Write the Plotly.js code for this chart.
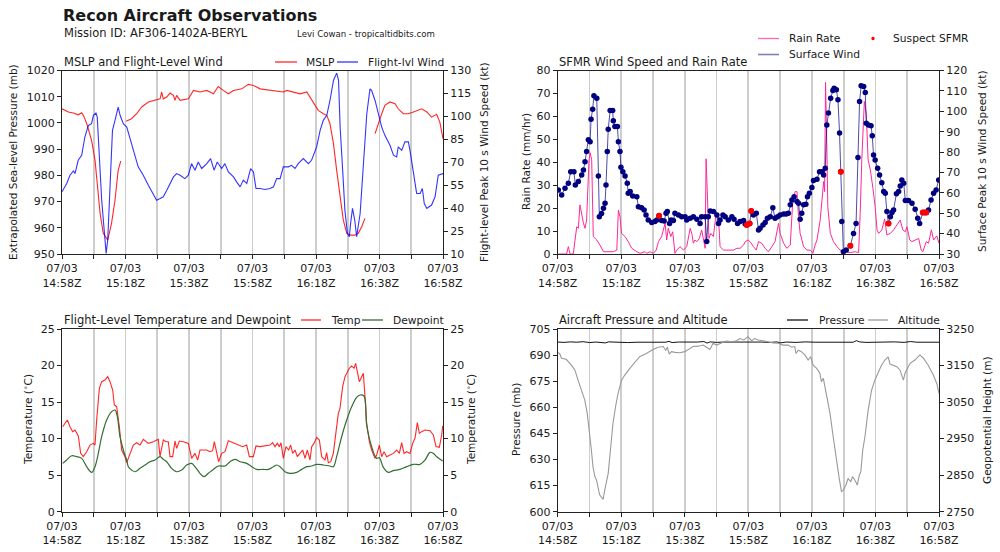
<!DOCTYPE html>
<html>
<head>
<meta charset="utf-8">
<script src="https://cdn.plot.ly/plotly-3.0.1.min.js"></script>
<style>html,body{margin:0;padding:0;background:#fff;}#chart{width:1000px;height:552px;}</style>
</head>
<body>
<div id="chart"></div>
<script>
// x values: minutes after 07/03 14:58Z
const tickMinutes = [0,20,40,60,80,100,120];
const minorMinutes = [10,30,50,70,90,110];
const tickDate = '07/03';
const tickTimes = ['14:58Z','15:18Z','15:38Z','15:58Z','16:18Z','16:38Z','16:58Z'];

// MSLP (mb) [minute, value]; null = gap
const mslp = [[0,1005.4],[2,1004.2],[3.6,1003.8],[5.1,1003.1],[6.2,1003.9],[6.9,1002.5],[7.8,999.7],[9.3,993.4],[10.4,985.8],[11.1,975.6],[12,965.5],[13,957.9],[14.4,955.3],[15.6,961.7],[16.7,970.6],[17.7,982],[18.5,985.4],[19.3,null],[20.2,1000.6],[21.9,1001.6],[23.5,1003.5],[25.1,1006.1],[27.2,1008],[29.8,1008.8],[30.9,1009.2],[31.4,1011.8],[31.9,1009.2],[33,1009.9],[34,1011.4],[35.1,1010.5],[35.6,1008.6],[36.1,1010.5],[37.2,1008.6],[39.8,1009.2],[41.4,1012.4],[43.5,1011.8],[45.6,1012.4],[47.7,1011.1],[49.2,1013.9],[50.8,1012.4],[52.4,1011.1],[54,1012.4],[56.6,1013],[58.7,1014.7],[60.3,1014.3],[62.4,1013],[65.5,1012.6],[68.1,1012.1],[69.7,1011.8],[70.8,1012.4],[72.9,1011.8],[75,1011.1],[77.1,1011.8],[78.1,1009.9],[79.2,1007.3],[80.7,1004.8],[82.3,1003.5],[83.4,1002.9],[84.4,999.7],[85.5,992.1],[86.5,982],[87.6,971.8],[88.6,962.9],[89.7,957.9],[90.7,957.2],[92.3,957.2],[93.3,957.9],[94.4,960.4],[95.4,963.6],[97,null],[98.6,995.9],[99.6,999.7],[100.7,1003.5],[101.7,1006.7],[103.3,1008],[104.9,1007.3],[105.9,1005.4],[107.5,1003.5],[109.1,1003.5],[110.7,1004.2],[112.2,1005],[113.3,1005.4],[114.9,1004.2],[116.4,1002.2],[118,1003.3],[119,1000.3],[120,994]];

// Flight-level peak 10 s wind (kt)
const flWind = [[0,50.7],[1.5,56.1],[2.5,61.5],[3.6,64.3],[4.1,62.6],[5.1,71.3],[6.2,74.6],[7.2,86.5],[8.3,94.1],[9.3,95.2],[9.9,100.7],[10.7,102.2],[11.1,99.6],[11.8,71.3],[12.5,45.2],[13.2,27.8],[13.9,10.4],[14.4,19.1],[15.1,49.6],[15.9,90.9],[16.7,97.4],[17.2,101.7],[17.7,106.1],[18.3,100.7],[19.3,95.2],[20.4,93],[21.4,86.5],[22.5,77.8],[24,67],[25.6,61.5],[27.2,55],[28.8,48.5],[29.8,45.2],[30.9,46.3],[31.9,47.4],[33,51.7],[34,56.1],[35.1,60.4],[36.1,62.6],[37.2,61.5],[38.7,59.3],[39.8,61.5],[40.8,69.1],[41.9,64.8],[42.9,70.2],[44,65.9],[45.6,69.1],[46.8,72.4],[47.9,64.8],[48.9,70.2],[50.3,65.9],[51.3,69.1],[52.4,63.7],[54,60.4],[55,57.2],[56.1,53.9],[57.1,58.3],[58.2,56.1],[59.4,65.9],[60.3,63.7],[61.1,52.8],[62.4,52.8],[63.9,52.2],[65.5,52.8],[66.6,53.9],[67.6,59.3],[68.7,59.3],[69.7,67],[71.3,67],[72.3,68],[73.4,65.9],[74.4,69.1],[76,72.4],[77.6,69.1],[78.6,71.3],[80.2,80],[81.3,90.9],[82.3,97.4],[83.4,100.7],[84.4,110.4],[85.5,123.5],[86.5,128.3],[87.1,123.5],[87.6,93],[88.4,64.8],[89.1,38.7],[89.9,23.5],[90.5,21.3],[90.9,30],[91.5,39.8],[92.2,32.2],[92.8,21.3],[93.9,36.5],[95,71.3],[96,101.7],[97,118],[97.5,117],[98.6,110.4],[99.6,101.7],[100.7,93],[101.7,87.6],[103.3,81.1],[104.4,74.6],[105.4,73.5],[105.9,80],[107,77.8],[108,83.3],[109.1,83.3],[109.6,77.8],[110.7,62.6],[111.7,49.6],[112.8,49.6],[113.5,52.8],[114.1,43],[114.9,39.8],[116.4,42],[117.5,47.4],[118.5,61.5],[120,62.6]];

// SFMR rain rate (mm/hr)
const rainRate = [[0.2,0],[2.8,0],[3.35,3.2],[3.9,0],[4.9,0],[5.45,6.1],[6,11.9],[6.5,11.2],[7,21.4],[8.1,13.4],[8.6,11.2],[9.1,14.8],[9.85,41],[10.2,44.2],[10.7,41],[11.2,7.6],[12.3,6.1],[13.3,3.9],[14.4,1],[17.5,1],[18.6,1.7],[19.1,19.2],[19.6,16.3],[20.1,9],[21.2,7.6],[22.2,5.4],[23.3,2.5],[24.9,1],[25.9,0.3],[27.5,1],[28,0.3],[29.1,1],[30.1,0.3],[31,1.7],[31.7,5.4],[32.7,7.6],[33.8,13.4],[34.3,6.1],[34.8,11.2],[35.6,7.6],[36.2,9.7],[36.9,0.3],[37.5,1.7],[38.5,3.2],[39.6,1.7],[40.6,3.2],[41.7,11.2],[42.2,9],[42.7,4.7],[43.2,6.1],[43.8,5.4],[44.6,6.8],[45.3,10.5],[45.9,6.1],[46.4,2.5],[46.7,41.5],[47.1,20.7],[47.6,6.8],[48.2,9],[49,7.6],[49.9,18.5],[50.6,16.3],[51.1,3.2],[52.2,1.7],[53.2,1.7],[55.3,1.7],[56.4,2.5],[57.4,2.5],[58.5,3.9],[59,5.4],[60,6.1],[60.8,4.9],[61.6,3.2],[62.5,1.7],[63.2,5.4],[64.2,4.7],[65.3,2.5],[66.3,1],[67.4,3.2],[68.4,5.4],[69.5,13.4],[70,9],[71.1,4.7],[72.1,2.5],[73.2,3.9],[73.9,21.4],[74.7,27.2],[75.3,27.2],[75.8,16.3],[76.3,9],[77.4,3.2],[78.4,1.7],[79.5,1.7],[80.3,0.3],[81,3.9],[81.6,6.1],[82.6,14.8],[83.5,29.4],[83.7,31.6],[84,27.2],[84.3,74.8],[84.7,46.8],[85,20.7],[85.8,9],[86.8,5.4],[87.9,3.2],[88.9,1.7],[90,1],[92.1,0.6],[93.6,1],[94.7,0.6],[95.2,17.7],[95.7,41],[96.5,66.5],[97.1,61.4],[97.7,41],[98.4,36.7],[99.2,28.7],[99.9,20.7],[100.5,10.5],[101,9],[102,10.5],[102.9,15.3],[103.6,8.3],[104.7,9],[105.7,10.5],[106.8,12.7],[107.8,14.8],[108.6,10.5],[109.4,9.7],[109.9,11.9],[110.8,6.1],[111.5,5.4],[112.5,6.1],[113.6,6.8],[114.4,1.7],[114.9,1],[116,5.4],[116.7,4.7],[117.6,10.5],[118.3,6.1],[119.3,7.9],[120,4.7]];

// SFMR surface peak 10 s wind (kt)
const sfcWind = [[0.2,61.4],[1.25,58.9],[2.3,62.3],[3.35,64.7],[4.1,70.4],[5.1,70.4],[5.55,63.9],[6.5,65.5],[7.55,68.8],[8.1,71.2],[8.6,75.3],[9.1,80.3],[9.65,86],[10.2,85.1],[10.5,96.1],[11,101],[11.4,107.6],[12.3,106.4],[12.8,68.3],[13.1,48.3],[13.8,49.9],[14.4,52.4],[14.9,54.9],[15.2,63.9],[15.6,80.3],[15.9,91.2],[16.5,100.4],[17.3,100.4],[17.5,95.3],[18,92.5],[18.8,92.5],[19.1,85.1],[19.6,80.3],[19.9,72.6],[20.5,70.4],[21.2,68.3],[21.9,64.7],[22.2,59.8],[22.8,60.6],[23.6,58.5],[24.9,58.1],[25.4,53.2],[26.4,52.7],[27.2,51.6],[27.8,49.1],[28.5,46.7],[29.6,45.5],[30.6,45.9],[31.2,46.7],[31.9,48.8],[32.7,46.4],[33.5,46.2],[34.1,50],[34.5,50.8],[35.2,45],[35.7,46.7],[36.4,46.4],[36.9,50],[38,49.1],[39,48.3],[40.1,48.3],[40.6,46.7],[41.7,47.5],[42.7,48.3],[43.8,47],[44.8,45],[45.3,48.3],[46.4,48.3],[46.9,36.1],[47.4,48.3],[48,51.1],[49,50.8],[50.1,49.1],[50.6,45],[51.1,46.7],[52,49.1],[52.7,48.3],[53.7,46.7],[54.8,48.3],[55.5,47],[56.6,45],[57.4,45.9],[58.5,46.4],[59,44.7],[59.5,44.2],[60.4,45],[60.9,51.1],[61.6,49.1],[62.5,50],[63.2,41.8],[63.7,42.6],[64.6,44.2],[65.3,45.4],[66,47.5],[66.9,48.3],[67.7,52.7],[68.4,47.5],[69.2,48.3],[70,49.1],[71.1,49.6],[71.9,49.6],[72.6,50],[73.2,54.1],[73.7,56.5],[74.4,58.1],[75.3,55.7],[75.8,54.9],[76.3,47],[76.8,50],[77.4,54.1],[78.1,54.4],[78.6,58.1],[79.2,59.8],[80,62.6],[80.5,66],[81.6,66.7],[82.4,70.4],[83.1,70.4],[83.7,68.8],[84.2,72.1],[84.7,93.3],[85.2,99.1],[85.9,106.4],[86.6,110.2],[87,111.3],[87.7,110.5],[88.2,105.6],[88.7,89.3],[89.1,70.4],[89.4,45.9],[89.9,31.1],[90.8,32],[92.1,34.1],[93.1,40.1],[93.9,45],[94.5,77.3],[95,104.8],[95.5,112.5],[96.3,112.2],[96.8,109.2],[97.1,94.1],[97.8,93.3],[98.6,92.9],[99,88],[99.4,78.6],[99.9,76.1],[100.7,72.1],[101.3,68.8],[102,65],[102.6,60.6],[103.1,59.8],[103.6,50.8],[104.1,45],[104.7,48.3],[105.2,50.3],[105.7,51.6],[106.6,59.5],[107.3,60.6],[107.8,63.4],[108.3,66.3],[108.9,64.7],[109.4,56.2],[110.4,56.2],[111.5,54.9],[112.5,51.9],[113.3,47.5],[113.9,45],[114.9,50.3],[115.5,50.3],[116,50.3],[116.7,51.6],[117.5,56.5],[118.3,59.8],[119.1,61.4],[119.9,66.3]];

// Suspect SFMR (kt)
const suspect = [[31.9,48.8],[59.5,44.2],[60.4,45],[60.9,51.1],[89.1,70.4],[92.1,34.1],[104.1,45],[114.9,50.3],[115.5,50.3],[116,50.3]];

// Flight-level temperature (C)
const temp = [[0.2,11.63],[0.94,12.09],[1.68,12.55],[2.52,11.63],[3.36,10.95],[4.09,11.18],[5.14,10.36],[5.88,7.98],[6.72,7.53],[7.77,8.21],[8.82,9.12],[9.87,9.35],[10.39,9.12],[10.92,12.55],[11.76,16.88],[12.49,17.79],[13.54,18.02],[14.38,18.48],[15.12,17.79],[15.96,16.65],[16.48,14.6],[17.22,14.37],[18.06,11.63],[18.79,8.44],[19.84,7.53],[20.37,6.71],[21.42,7.98],[22.47,9.12],[23.52,9.44],[24.57,9.12],[25.62,9.9],[27.19,9.35],[28.77,9.58],[30.34,9.9],[30.87,7.53],[31.92,9.81],[32.76,9.58],[33.49,9.58],[34.02,7.53],[34.86,7.53],[35.59,9.67],[36.12,8.67],[36.96,9.67],[38.22,9.58],[39.79,9.35],[40.84,7.3],[41.89,7.98],[42.73,7.07],[43.46,8.44],[44.51,8.44],[45.56,8.44],[46.61,8.21],[47.45,8.35],[47.98,9.58],[48.5,8.44],[49.34,6.84],[50.29,7.98],[51.34,8.21],[52.39,9.72],[53.96,9.44],[55.54,9.12],[56.9,8.9],[58.16,9.12],[59,7.53],[60.26,7.53],[61.1,8.99],[62.36,8.9],[63.94,8.99],[65.51,9.12],[66.35,9.44],[67.09,8.9],[67.82,9.35],[68.45,8.9],[68.98,9.44],[69.71,7.3],[70.55,8.9],[71.39,8.44],[72.02,9.12],[72.65,7.98],[73.39,8.44],[74.12,7.53],[74.96,7.98],[75.8,8.44],[76.54,7.3],[77.27,8.44],[78.11,7.07],[78.64,8.9],[79.37,9.35],[80.21,10.17],[81.05,9.81],[81.79,7.53],[82.83,7.07],[83.36,8.07],[83.88,6.71],[84.62,6.84],[85.46,7.98],[86.3,10.72],[87.03,13.46],[87.56,14.14],[88.4,17.11],[89.13,18.48],[89.87,19.16],[90.5,19.62],[91.23,19.94],[91.97,19.62],[92.49,20.3],[93.02,19.16],[93.65,17.79],[94.38,18.48],[94.91,18.93],[95.43,15.74],[95.96,12.09],[96.8,9.58],[97.53,8.44],[98.58,7.3],[99.11,7.76],[99.95,9.12],[100.68,7.53],[101.42,8.21],[102.26,7.53],[103.31,7.76],[104.36,7.98],[105.41,8.44],[106.25,7.98],[106.98,9.44],[107.72,7.98],[108.56,8.21],[109.61,7.98],[110.45,9.35],[111.18,10.04],[111.92,12.18],[112.55,10.72],[113.28,10.95],[114.33,11.18],[115.91,11.09],[116.96,10.49],[117.8,8.9],[118.85,8.8],[119.58,10.49],[119.9,11.72]];

// Flight-level dewpoint (C)
const dewpoint = [[0.2,6.61],[1.47,7.07],[3.04,7.66],[4.62,7.53],[6.19,7.3],[7.77,6.16],[9.34,5.38],[10.39,6.16],[11.44,7.98],[12.49,10.26],[14.07,12.55],[15.64,13.69],[16.69,13.91],[17.43,13],[18.27,10.26],[19.32,8.44],[20.37,7.07],[20.89,6.16],[21.94,5.7],[22.99,5.47],[24.57,5.93],[26.14,6.39],[27.72,6.84],[29.29,7.07],[30.87,7.53],[31.92,7.16],[32.97,6.84],[34.54,5.93],[36.12,5.47],[37.69,5.7],[39.27,6.39],[40.84,6.61],[41.89,6.16],[43.46,5.25],[44.72,4.79],[46.09,5.25],[47.66,5.79],[49.24,6.25],[51.34,6.25],[52.91,6.84],[54.49,7.16],[56.06,6.84],[58.16,6.61],[59.74,6.16],[61.31,5.79],[63.41,5.79],[64.99,5.79],[66.56,6.16],[67.61,6.39],[68.66,6.16],[70.23,5.47],[71.81,5.25],[73.91,5.38],[75.49,5.79],[77.06,6.16],[78.64,6.25],[80.21,6.48],[82.31,6.39],[84.41,6.25],[85.46,6.16],[86.51,7.53],[88.08,10.26],[89.66,12.55],[91.23,14.37],[92.81,15.65],[93.86,15.97],[95.12,15.83],[95.96,11.86],[97.53,8.9],[99.11,7.3],[99.95,7.39],[101.21,6.07],[102.78,5.38],[104.36,5.61],[106.46,5.79],[108.56,6.16],[110.66,6.48],[112.76,6.48],[114.33,7.07],[115.91,8.12],[116.96,7.98],[118.01,7.53],[119.9,6.93]];

// Aircraft static pressure (mb)
const acPressure = [[0,697.5],[2,697.3],[4,697.6],[6,697.4],[8,697.7],[10,697.2],[12,697.5],[14,697.4],[15,697.0],[16,697.6],[18,697.4],[20,697.5],[22,697.2],[25,697.4],[28,697.5],[31,697.3],[34,697.4],[35,697.9],[36,697.2],[38,697.5],[41,697.4],[44,697.5],[46,697.8],[47,696.9],[48,697.6],[50,697.3],[52,697.5],[55,697.6],[58,697.5],[61,697.4],[64,697.5],[67,697.3],[69,697.6],[70,697.0],[72,697.5],[75,697.3],[78,697.6],[81,697.4],[84,697.5],[87,697.3],[90,697.5],[93,697.4],[94,698.3],[95,697.6],[97,697.3],[100,697.5],[103,697.4],[106,697.6],[109,697.3],[111,697.8],[113,697.4],[116,697.5],[118,697.3],[120,697.4]];

// Geopotential height (m)
const altitude = [[0.1,3185],[0.6,3183],[1.2,3170],[2.7,3167],[4.3,3151],[5.4,3138],[6.4,3110],[7.5,3083],[8.5,3056],[9.3,3019],[10.1,2964],[10.6,2919],[11.1,2873],[11.7,2846],[12.2,2837],[12.7,2818],[13.2,2796],[13.8,2789],[14.3,2784],[14.8,2809],[15.3,2828],[15.9,2855],[16.4,2901],[16.9,2946],[17.4,2992],[18.3,3042],[19,3074],[20.1,3110],[21.1,3124],[22.7,3142],[24.3,3160],[25.8,3174],[27.9,3183],[30,3194],[31.6,3200],[33.2,3202],[34,3192],[34.5,3200],[35.1,3181],[35.8,3188],[36.9,3186],[38.4,3185],[40,3188],[41.1,3194],[42.6,3202],[44.2,3203],[45.8,3206],[46.8,3200],[47.9,3194],[48.9,3211],[50,3206],[51.5,3212],[53.1,3217],[54.7,3215],[56.3,3218],[57.3,3224],[58.6,3220],[59.9,3229],[61,3218],[62,3224],[63.1,3220],[64.7,3218],[66.2,3215],[67.8,3212],[69.4,3211],[70.9,3206],[72.5,3206],[73.6,3200],[74.6,3202],[75,3183],[75.7,3192],[76.7,3188],[77.8,3179],[78.8,3165],[79.6,3174],[80.4,3151],[81.5,3142],[82.5,3129],[83,3106],[83.6,3115],[84.6,3069],[85.7,3019],[86.7,2955],[87.8,2882],[88.6,2841],[89.3,2805],[89.9,2809],[90.7,2823],[91.4,2841],[92.2,2832],[92.8,2846],[93.5,2837],[94.3,2823],[94.9,2850],[95.4,2859],[96,2919],[96.7,2955],[97.7,3028],[98.8,3083],[99.8,3110],[100.9,3130],[101.9,3151],[103,3165],[104,3174],[104.6,3154],[105.6,3151],[106.7,3147],[107.7,3138],[108.8,3110],[109.3,3129],[109.8,3138],[110.9,3156],[112.4,3165],[114,3179],[115.1,3170],[116.6,3151],[118.2,3124],[119.3,3101],[120,3074]];

const FONT = 'DejaVu Sans, sans-serif';
const TXT = '#1a1a1a';
const GRID = '#cdcdcd';
const xs = a => a.map(p => p[0]);
const ys = a => a.map(p => p[1]);

const tickText = tickTimes.map(t => tickDate + '<br>' + t);

function xAxis(domain, anchor) {
  return {domain: domain, anchor: anchor, range: [0, 120], tickmode: 'array',
    tickvals: tickMinutes, ticktext: tickText, showgrid: true, gridcolor: GRID, gridwidth: 1.8,
    minor: {tickmode: 'array', tickvals: minorMinutes, ticks: 'outside', ticklen: 4, tickwidth: 1,
      tickcolor: '#222', showgrid: true, gridcolor: GRID, gridwidth: 1.8},
    showline: true, mirror: true, linecolor: '#222', linewidth: 1, ticks: 'outside', ticklen: 4,
    tickwidth: 1, tickcolor: '#222', zeroline: false, tickfont: {size: 11, color: TXT, family: FONT},
    fixedrange: true, automargin: false};
}
function yAxis(domain, anchor, range, tick0, dtick, right, overlay) {
  const a = {range: range, tick0: tick0, dtick: dtick, tickmode: 'linear', showgrid: false,
    showline: true, linecolor: '#222', linewidth: 1, ticks: 'outside', ticklen: 4, tickwidth: 1,
    tickcolor: '#222', zeroline: false, tickfont: {size: 11, color: TXT, family: FONT},
    fixedrange: true, automargin: false, anchor: anchor};
  if (right) { a.side = 'right'; a.overlaying = overlay; } else { a.domain = domain; }
  return a;
}

const topD = [1 - 254/552, 1 - 70.5/552];
const botD = [1 - 511.7/552, 1 - 329/552];
const leftD = [0.062, 0.443];
const rightD = [0.5577, 0.939];

const traces = [
  {x: xs(mslp), y: ys(mslp), xaxis: 'x', yaxis: 'y', mode: 'lines', line: {color: 'rgba(255,0,0,0.85)', width: 1.1}, connectgaps: false, hoverinfo: 'skip'},
  {x: xs(flWind), y: ys(flWind), xaxis: 'x', yaxis: 'y2', mode: 'lines', line: {color: 'rgba(0,0,255,0.8)', width: 1.1}, hoverinfo: 'skip'},
  {x: xs(rainRate), y: ys(rainRate), xaxis: 'x2', yaxis: 'y3', mode: 'lines', line: {color: 'rgb(255,40,150)', width: 1}, hoverinfo: 'skip'},
  {x: xs(sfcWind), y: ys(sfcWind), xaxis: 'x2', yaxis: 'y4', mode: 'lines+markers', line: {color: 'rgba(0,0,128,0.7)', width: 1}, marker: {color: '#000080', size: 5.5}, hoverinfo: 'skip'},
  {x: xs(suspect), y: ys(suspect), xaxis: 'x2', yaxis: 'y4', mode: 'markers', marker: {color: '#ff0000', size: 6}, hoverinfo: 'skip'},
  {x: xs(temp), y: ys(temp), xaxis: 'x3', yaxis: 'y5', mode: 'lines', line: {color: 'rgba(255,0,0,0.85)', width: 1.1}, hoverinfo: 'skip'},
  {x: xs(dewpoint), y: ys(dewpoint), xaxis: 'x3', yaxis: 'y5', mode: 'lines', line: {color: 'rgb(50,110,50)', width: 1.2, shape: 'spline'}, hoverinfo: 'skip'},
  {x: [], y: [], xaxis: 'x3', yaxis: 'y6', mode: 'lines', hoverinfo: 'skip'},
  {x: xs(acPressure), y: ys(acPressure), xaxis: 'x4', yaxis: 'y7', mode: 'lines', line: {color: '#111', width: 1}, hoverinfo: 'skip'},
  {x: xs(altitude), y: ys(altitude), xaxis: 'x4', yaxis: 'y8', mode: 'lines', line: {color: '#999999', width: 1.1}, hoverinfo: 'skip'}
];

const px = v => v / 1000;
const py = v => 1 - v / 552;

function txt(text, x, y, size, opts) {
  return Object.assign({text: text, x: px(x), y: py(y), xref: 'paper', yref: 'paper', showarrow: false,
    xanchor: 'left', yanchor: 'middle', font: {family: FONT, size: size, color: TXT}}, opts || {});
}
function vtxt(text, x, yc) {
  return {text: text, x: px(x), y: py(yc), xref: 'paper', yref: 'paper', showarrow: false, textangle: -90,
    xanchor: 'center', yanchor: 'middle', font: {family: FONT, size: 10.5, color: TXT}};
}
function legLine(x0, x1, y, color, w) {
  return {type: 'line', xref: 'paper', yref: 'paper', x0: px(x0), x1: px(x1), y0: py(y), y1: py(y), line: {color: color, width: w || 1.3}};
}

const degC = '(<sup>∘</sup>C)';
const annotations = [
  txt('<b>Recon Aircraft Observations</b>', 61, 15, 16),
  txt('Mission ID: AF306-1402A-BERYL', 62, 33, 11.5),
  txt('Levi Cowan - tropicaltidbits.com', 295, 34, 8.6),
  txt('MSLP and Flight-Level Wind', 62, 62, 11.5),
  txt('MSLP', 304, 62, 10.7),
  txt('Flight-lvl Wind', 366, 62, 10.7),
  txt('SFMR Wind Speed and Rain Rate', 557, 62, 11.5),
  txt('Rain Rate', 787, 38.5, 10.7),
  txt('Surface Wind', 787, 54.5, 10.7),
  txt('Suspect SFMR', 891, 38.5, 10.7),
  txt('Flight-Level Temperature and Dewpoint', 62, 320, 11.5),
  txt('Temp', 329, 320, 10.7),
  txt('Dewpoint', 391, 320, 10.7),
  txt('Aircraft Pressure and Altitude', 557, 320, 11.5),
  txt('Pressure', 817, 320, 10.7),
  txt('Altitude', 896, 320, 10.7),
  vtxt('Extrapolated Sea-level Pressure (mb)', 13, 162),
  vtxt('Flight-level Peak 10 s Wind Speed (kt)', 484, 162),
  vtxt('Rain Rate (mm/hr)', 526, 162),
  vtxt('Surface Peak 10 s Wind Speed (kt)', 982, 162),
  vtxt('Temperature ' + degC, 27, 420),
  vtxt('Temperature ' + degC, 470, 420),
  vtxt('Pressure (mb)', 516, 420),
  vtxt('Geopotential Height (m)', 987, 420)
];

const shapes = [
  legLine(275, 297, 62, 'rgba(255,0,0,0.85)'),
  legLine(337, 358, 62, 'rgba(0,0,255,0.8)'),
  legLine(758, 779, 38.5, 'rgba(255,40,150,0.7)'),
  legLine(758, 779, 54.5, 'rgba(0,0,128,0.5)', 1.6),
  {type: 'circle', xref: 'paper', yref: 'paper', x0: px(871.3), x1: px(874.7), y0: py(40.2), y1: py(36.8), fillcolor: '#ff0000', line: {width: 0}},
  legLine(301, 321, 320, 'rgba(255,0,0,0.85)'),
  legLine(362, 383, 320, 'rgb(50,110,50)'),
  legLine(787, 808, 320, '#111'),
  legLine(868, 888, 320, '#999999')
];

const layout = {
  width: 1000, height: 552, margin: {l: 0, r: 0, t: 0, b: 0},
  paper_bgcolor: '#ffffff', plot_bgcolor: '#ffffff', showlegend: false,
  font: {family: FONT, color: TXT},
  xaxis: xAxis(leftD, 'y'),
  xaxis2: xAxis(rightD, 'y3'),
  xaxis3: xAxis(leftD, 'y5'),
  xaxis4: xAxis(rightD, 'y7'),
  yaxis: yAxis(topD, 'x', [950, 1020], 950, 10, false),
  yaxis2: yAxis(topD, 'x', [10, 130], 10, 15, true, 'y'),
  yaxis3: yAxis(topD, 'x2', [0, 80], 0, 10, false),
  yaxis4: yAxis(topD, 'x2', [30, 120], 30, 10, true, 'y3'),
  yaxis5: yAxis(botD, 'x3', [0, 25], 0, 5, false),
  yaxis6: yAxis(botD, 'x3', [0, 25], 0, 5, true, 'y5'),
  yaxis7: yAxis(botD, 'x4', [600, 705], 600, 15, false),
  yaxis8: yAxis(botD, 'x4', [2750, 3250], 2750, 100, true, 'y7'),
  annotations: annotations,
  shapes: shapes
};

Plotly.newPlot('chart', traces, layout, {displayModeBar: false, staticPlot: true});
</script>
</body>
</html>
